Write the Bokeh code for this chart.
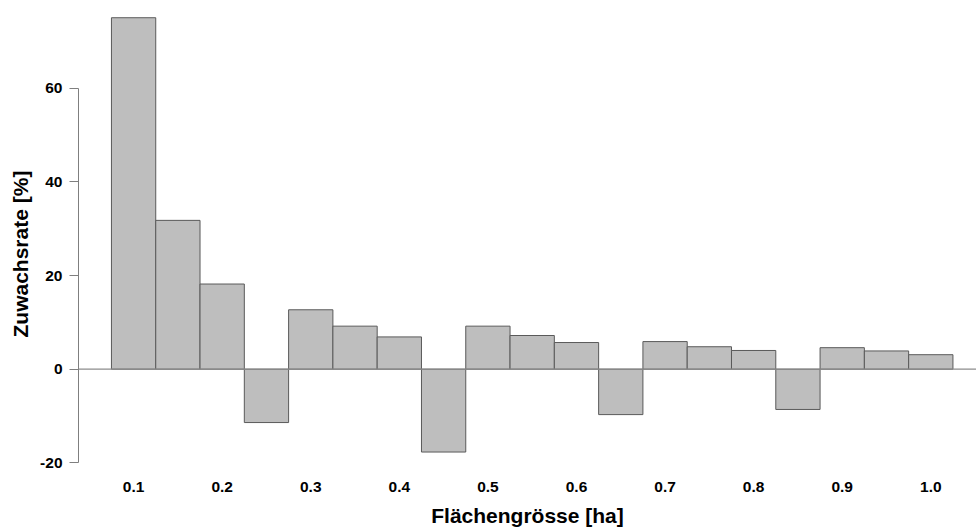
from bokeh.plotting import figure
from bokeh.models import FixedTicker, PrintfTickFormatter, Span, Range1d, Title
from bokeh.embed import file_html
from bokeh.resources import INLINE

# Data
flaechen = [0.10, 0.15, 0.20, 0.25, 0.30, 0.35, 0.40, 0.45, 0.50, 0.55,
            0.60, 0.65, 0.70, 0.75, 0.80, 0.85, 0.90, 0.95, 1.00]
zuwachs = [75.1, 31.8, 18.2, -11.4, 12.7, 9.2, 6.9, -17.7, 9.2, 7.2,
           5.7, -9.7, 5.9, 4.8, 4.0, -8.6, 4.6, 3.9, 3.1]
x_ticks = [0.1, 0.2, 0.3, 0.4, 0.5, 0.6, 0.7, 0.8, 0.9, 1.0]
y_ticks = [-20, 0, 20, 40, 60]
bar_width = 0.05

FONT = "Liberation Sans"

p = figure(width=976, height=530, output_backend="svg", toolbar_location=None,
           x_range=Range1d(0.0378, 1.0516), y_range=Range1d(-21.43, 78.78),
           min_border_left=78, min_border_right=0, min_border_top=0,
           min_border_bottom=61)

p.vbar(x=flaechen, top=zuwachs, bottom=0, width=bar_width,
       fill_color="#bebebe", line_color="#5a5a5a", line_width=1)

p.add_layout(Span(location=0, dimension="width", line_color="#8c8c8c", line_width=1.2))

p.xgrid.visible = False
p.ygrid.visible = False
p.outline_line_color = None
p.background_fill_color = "white"
p.border_fill_color = "white"

# x axis
xa = p.xaxis[0]
xa.ticker = FixedTicker(ticks=x_ticks)
xa.formatter = PrintfTickFormatter(format="%.1f")
xa.axis_line_color = None
xa.major_tick_line_color = None
xa.minor_tick_line_color = None
xa.major_label_text_font = FONT
xa.major_label_text_font_style = "bold"
xa.major_label_text_font_size = "15.5px"
xa.major_label_text_color = "black"
xa.major_label_standoff = 6
xa.axis_label = "Flächengrösse [ha]"
xa.axis_label_text_font = FONT
xa.axis_label_text_font_style = "bold"
xa.axis_label_text_font_size = "21px"
xa.axis_label_text_color = "black"
xa.axis_label_standoff = 9

# y axis
ya = p.yaxis[0]
ya.ticker = FixedTicker(ticks=y_ticks)
ya.formatter = PrintfTickFormatter(format="%d")
ya.bounds = (-20, 60)
ya.axis_line_color = "#7f7f7f"
ya.major_tick_line_color = "#7f7f7f"
ya.major_tick_out = 9
ya.major_tick_in = 0
ya.minor_tick_line_color = None
ya.major_label_text_font = FONT
ya.major_label_text_font_style = "bold"
ya.major_label_text_font_size = "15.5px"
ya.major_label_text_color = "black"
ya.major_label_standoff = 7

# y axis title, positioned along the axis as in the reference
p.add_layout(Title(text="Zuwachsrate [%]", align="left", offset=132,
                   text_font=FONT, text_font_style="bold", text_font_size="21px",
                   text_color="black", standoff=11), "left")

open("out.html", "w").write(file_html(p, INLINE))
